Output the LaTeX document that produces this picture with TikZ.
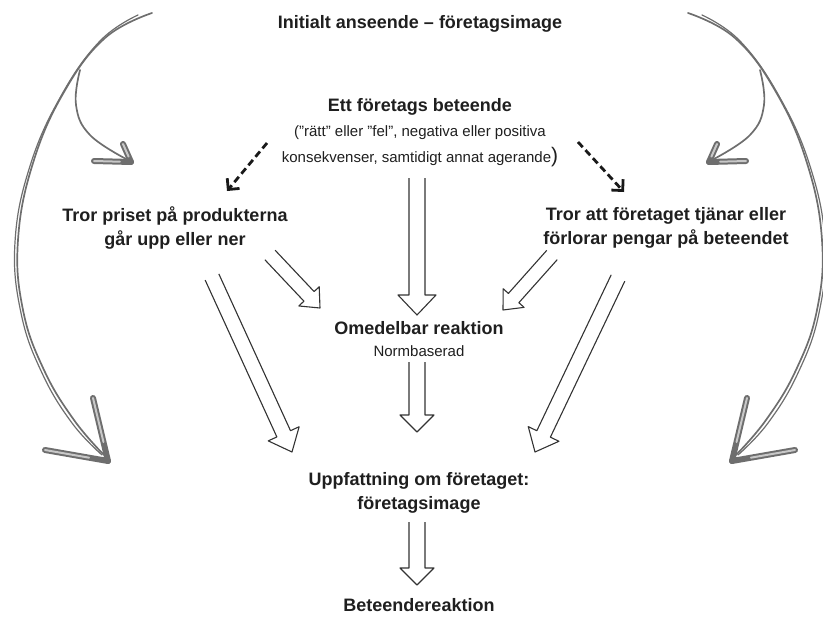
\documentclass[tikz,border=0pt]{standalone}
\usepackage{fontspec}
\setmainfont{Liberation Sans}
\usetikzlibrary{calc,arrows.meta}
\definecolor{sk}{HTML}{6E6E6E}
\definecolor{skin}{HTML}{C8C8C8}
\newcommand\hollowarr[5]{\draw[hollow] ($(#1)!#3!90:(#2)$) -- ($(#2)!#5!(#1)!#3!90:(#2)$) -- ($(#2)!#5!(#1)!#4!90:(#2)$) -- (#2) -- ($(#2)!#5!(#1)!#4!-90:(#2)$) -- ($(#2)!#5!(#1)!#3!-90:(#2)$) -- ($(#1)!#3!-90:(#2)$);}
\newcommand\sketchbarb[2]{\draw[barbo] (#1) -- (#2); \draw[barbi] ($(#1)!0.3!(#2)$) -- (#2);}
\newcommand\sidecurves{%
  \draw[sketch] plot[smooth,tension=0.7] coordinates {(152,13) (105,38) (64,92) (33,163) (18,240) (23,310) (44,370) (74,420) (104,455)};
  \draw[sketch,line width=1.2pt] plot[smooth,tension=0.7] coordinates {(138,15) (100,41) (61,96) (30,166) (15,242) (21,313) (42,373) (72,423) (102,455)};
  \draw[sketch] plot[smooth,tension=0.7] coordinates {(80,70) (76,105) (90,135) (128,160)};
  \sketchbarb{131,162}{94,161}
  \sketchbarb{131,162}{123,144}
  \sketchbarb{108,461}{45,450}
  \sketchbarb{108,461}{93,398}
}
\begin{document}
\begin{tikzpicture}[x=1pt,y=-1pt,
  bt/.style={font=\fontsize{18}{24}\selectfont\bfseries, text=black!88, align=center, inner sep=0pt},
  st/.style={font=\fontsize{15}{26}\selectfont, text=black!88, align=center, inner sep=0pt},
  hollow/.style={draw=black!80, line width=1.1pt, line join=round},
  dasharr/.style={draw=black!90, line width=2.8pt, dash pattern=on 7pt off 4pt, -{Straight Barb[length=8pt,width=16pt]}},
  sketch/.style={draw=sk, line width=1.7pt, line cap=round},
  barbo/.style={draw=sk, line width=6pt, line cap=round},
  barbi/.style={draw=skin, line width=2pt, line cap=round}]
\useasboundingbox (0,0) rectangle (823,624);
% text
\node[bt] (init) at (420,24) {Initialt anseende – företagsimage};
\node[bt] (ett) at (420,107) {Ett företags beteende};
\node[st] (paren) at (420,146) {(”rätt” eller ”fel”, negativa eller positiva\\konsekvenser, samtidigt annat agerande{\fontsize{21}{26}\selectfont)}};
\node[bt] (pris) at (175,228) {Tror priset på produkterna\\går upp eller ner};
\node[bt] (tjanar) at (666,228) {Tror att företaget tjänar eller\\förlorar pengar på beteendet};
\node[bt] (omed) at (419,328) {Omedelbar reaktion};
\node[st] (norm) at (419,351) {Normbaserad};
\node[bt] (uppf) at (419,493) {Uppfattning om företaget:\\företagsimage};
\node[bt] (beteende) at (419,605) {Beteendereaktion};
% hollow arrows
\coordinate (a1s) at (417,178); \coordinate (a1e) at (417,315);
\coordinate (a2s) at (417,362); \coordinate (a2e) at (417,432);
\coordinate (a3s) at (417,522); \coordinate (a3e) at (417,585);
\coordinate (a4s) at (270,255); \coordinate (a4e) at (320,308);
\coordinate (a5s) at (212,277); \coordinate (a5e) at (292,452);
\coordinate (a6s) at (552,255); \coordinate (a6e) at (503,310);
\coordinate (a7s) at (618,278); \coordinate (a7e) at (535,452);
\hollowarr{a1s}{a1e}{8pt}{19pt}{20pt}
\hollowarr{a2s}{a2e}{8pt}{17pt}{17pt}
\hollowarr{a3s}{a3e}{8pt}{17pt}{17pt}
\hollowarr{a4s}{a4e}{7pt}{14pt}{16pt}
\hollowarr{a5s}{a5e}{7.5pt}{17pt}{20pt}
\hollowarr{a6s}{a6e}{7pt}{14pt}{16pt}
\hollowarr{a7s}{a7e}{7.5pt}{17pt}{20pt}
% dashed arrows
\coordinate (d1s) at (267,143); \coordinate (d1e) at (227,191);
\coordinate (d2s) at (578,142); \coordinate (d2e) at (624,192);
\draw[dasharr] (d1s) -- (d1e);
\draw[dasharr] (d2s) -- (d2e);
% big sketched curves
\sidecurves
\begin{scope}[shift={(840,0)}, xscale=-1]
\sidecurves
\end{scope}
\end{tikzpicture}
\end{document}
